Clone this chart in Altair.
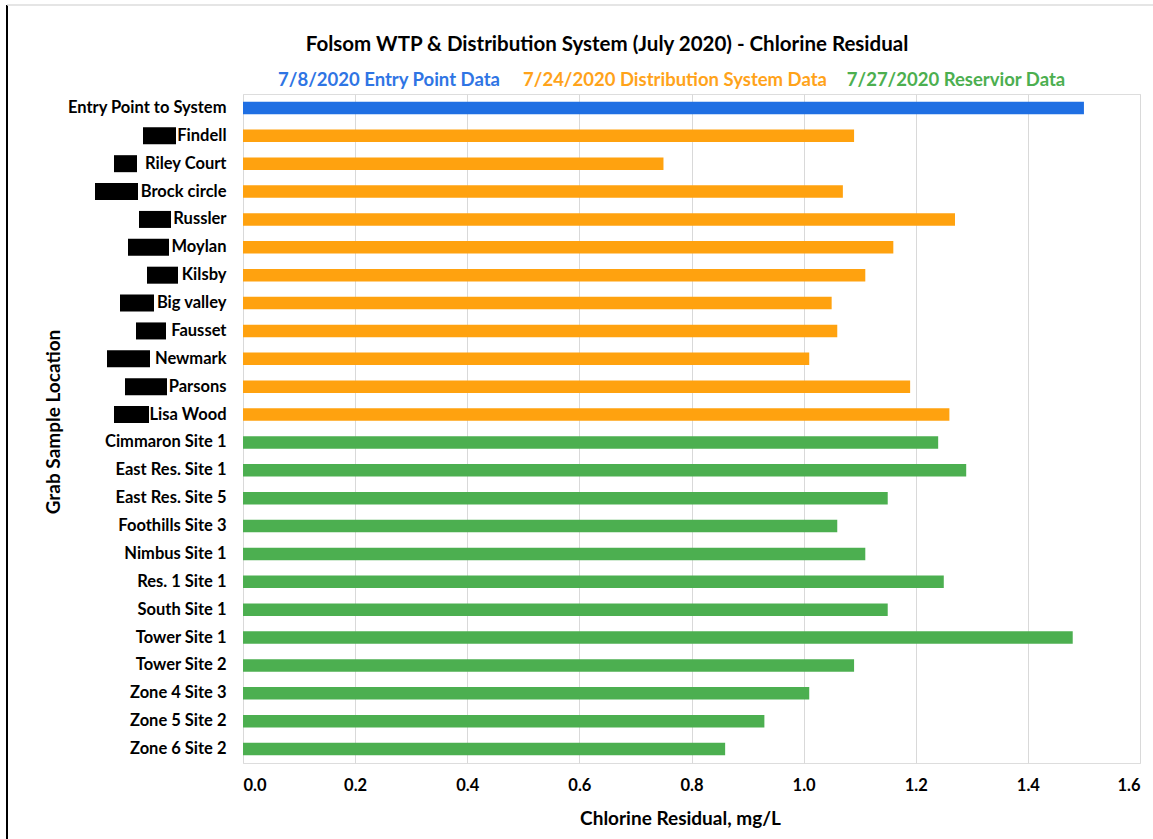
import altair as alt
import pandas as pd

# Sample locations, top to bottom
locations = [
    "Entry Point to System",
    "Findell", "Riley Court", "Brock circle", "Russler", "Moylan", "Kilsby",
    "Big valley", "Fausset", "Newmark", "Parsons", "Lisa Wood",
    "Cimmaron Site 1", "East Res. Site 1", "East Res. Site 5", "Foothills Site 3",
    "Nimbus Site 1", "Res. 1 Site 1", "South Site 1", "Tower Site 1",
    "Tower Site 2", "Zone 4 Site 3", "Zone 5 Site 2", "Zone 6 Site 2",
]

# Chlorine residual, mg/L
residual = [
    1.50,
    1.09, 0.75, 1.07, 1.27, 1.16, 1.11,
    1.05, 1.06, 1.01, 1.19, 1.26,
    1.24, 1.29, 1.15, 1.06,
    1.11, 1.25, 1.15, 1.48,
    1.09, 1.01, 0.93, 0.86,
]

# Which sampling event each location belongs to
dataset = (["Entry Point"]
           + ["Distribution System"] * 11
           + ["Reservoir"] * 12)

groups = ["Entry Point", "Distribution System", "Reservoir"]
group_colors = ["#1f6fe3", "#ffa20f", "#4caf50"]
text_colors = ["#2f75e4", "#ffa31a", "#4caf50"]
group_titles = ["7/8/2020 Entry Point Data",
                "7/24/2020 Distribution System Data",
                "7/27/2020 Reservior Data"]

# House numbers blacked out in front of the street names (pixel span left of the axis)
redacted = ["Findell", "Riley Court", "Brock circle", "Russler", "Moylan", "Kilsby",
            "Big valley", "Fausset", "Newmark", "Parsons", "Lisa Wood"]
redact_left = [-100, -129, -148, -104, -115, -96, -123, -107, -136, -118, -129]
redact_right = [-67, -106, -105, -72, -74, -65, -89, -77, -93, -76, -94]

FONT = "Lato"
W, H = 897, 669

df = pd.DataFrame({"location": locations, "residual": residual, "dataset": dataset})

y_axis = alt.Axis(
    title="Grab Sample Location",
    titleFont=FONT, titleFontSize=19, titleFontWeight="bold", titleColor="#000",
    titleX=-190, titleY=H / 2 - 7, titleAngle=270, titleBaseline="middle",
    titleAlign="center",
    labelFont=FONT, labelFontSize=16.5, labelFontWeight="bold", labelColor="#000",
    labelPadding=17, ticks=False, domain=False, grid=False, labelOverlap=False,
)
y_enc = alt.Y(
    "location:N",
    sort=locations,
    scale=alt.Scale(paddingInner=0.55, paddingOuter=0.275),
    axis=y_axis,
)

bars = alt.Chart(df).mark_bar(size=12.5).encode(
    x=alt.X(
        "residual:Q",
        scale=alt.Scale(domain=[0, 1.6], nice=False, zero=True),
        axis=alt.Axis(
            values=[0, 0.2, 0.4, 0.6, 0.8, 1.0, 1.2, 1.4, 1.6],
            format=".1f",
            title="Chlorine Residual, mg/L",
            titleFont=FONT, titleFontSize=19, titleFontWeight="bold", titleColor="#000",
            titleX=437, titleY=55, titleBaseline="middle",
            labelFont=FONT, labelFontSize=16.5, labelFontWeight="bold", labelColor="#000",
            labelPadding=14, ticks=False, domain=False,
            grid=True, gridColor="#d9d9d9", gridWidth=1,
        ),
    ),
    y=y_enc,
    color=alt.Color("dataset:N", scale=alt.Scale(domain=groups, range=group_colors),
                    legend=None),
)

mask_df = pd.DataFrame({"location": redacted, "x0": redact_left, "x1": redact_right})
masks = alt.Chart(mask_df).mark_bar(size=17, color="black").encode(
    x=alt.X("x0:Q", scale=None, axis=None),
    x2="x1:Q",
    y=y_enc,
)

title = alt.Chart(pd.DataFrame({"t": ["Folsom WTP & Distribution System (July 2020) - Chlorine Residual"]})).mark_text(
    font=FONT, fontSize=20.5, fontWeight="bold", color="#000", align="center", baseline="middle"
).encode(text="t:N", x=alt.value(364), y=alt.value(-49))

subtitle_x = [146, 432, 713]
subtitles = [
    alt.Chart(pd.DataFrame({"t": [txt]})).mark_text(
        font=FONT, fontSize=18.5, fontWeight="bold", color=col, align="center", baseline="middle"
    ).encode(text="t:N", x=alt.value(px), y=alt.value(-14))
    for txt, col, px in zip(group_titles, text_colors, subtitle_x)
]

edge_df = pd.DataFrame({"k": [0]})
left_edge = alt.Chart(edge_df).mark_rule(color="#000", strokeWidth=2).encode(
    x=alt.value(-236), y=alt.value(-89), y2=alt.value(745))
top_edge = alt.Chart(edge_df).mark_rule(color="#dcdcdc", strokeWidth=1.5).encode(
    x=alt.value(-236), x2=alt.value(910), y=alt.value(-89))

chart = alt.layer(bars, masks, title, *subtitles, left_edge, top_edge).resolve_scale(
    x="independent"
).properties(
    width=W, height=H,
    autosize=alt.AutoSizeParams(type="none"),
    padding={"left": 243, "top": 94, "right": 13, "bottom": 76},
).configure_view(stroke="#595959", strokeWidth=1.5).configure(background="white")

chart.save("out.html", embed_options={"renderer": "svg", "actions": False})
